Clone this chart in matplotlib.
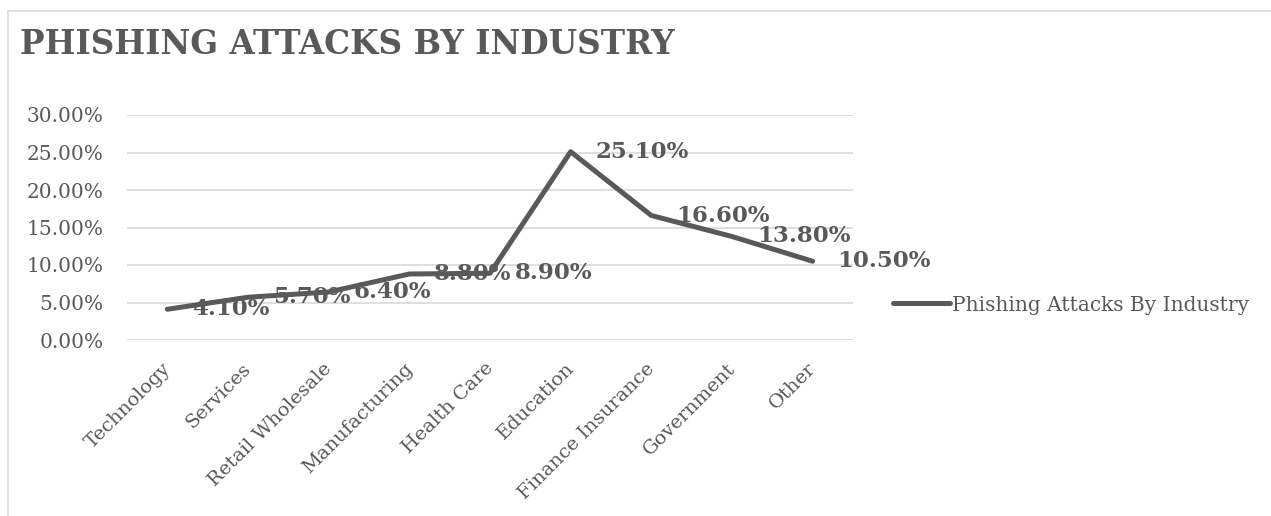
import matplotlib
matplotlib.use("Agg")
import matplotlib.pyplot as plt
import matplotlib.transforms as mtransforms
from matplotlib.lines import Line2D

industries = ["Technology", "Services", "Retail Wholesale", "Manufacturing",
              "Health Care", "Education", "Finance Insurance", "Government", "Other"]
share = [4.1, 5.7, 6.4, 8.8, 8.9, 25.1, 16.6, 13.8, 10.5]
yticks = [0, 5, 10, 15, 20, 25, 30]
series_name = "Phishing Attacks By Industry"

grey = "#595959"
serif = ["DejaVu Serif"]

fig = plt.figure(figsize=(12.71, 5.16), dpi=100)
ax = fig.add_axes([127 / 1271, 1 - 340 / 516, (853 - 127) / 1271, (340 - 115) / 516])

# chart border (cut off at right and bottom)
fig.add_artist(Line2D([8 / 1271, 1.0], [1 - 11 / 516, 1 - 11 / 516], color="#d9d9d9", lw=1.2))
fig.add_artist(Line2D([8 / 1271, 8 / 1271], [0, 1 - 11 / 516], color="#d9d9d9", lw=1.2))

x = list(range(len(industries)))
line, = ax.plot(x, share, color=grey, lw=3.6, solid_capstyle="round",
                solid_joinstyle="round", label=series_name, zorder=3)

for xi, v in zip(x, share):
    ax.annotate(f"{v:.2f}%", (xi, v), xytext=(18, 0), textcoords="offset points",
                ha="left", va="center", fontsize=16.5, fontweight="bold",
                color=grey, family=serif, zorder=4)

ax.set_xlim(-0.5, len(industries) - 0.5)
ax.set_ylim(0, 30)
ax.set_yticks(yticks)
ax.set_yticklabels([f"{t:.2f}%" for t in yticks], family=serif, fontsize=14.5, color=grey)
ax.set_xticks(x)
ax.set_xticklabels(industries, rotation=45, ha="right", rotation_mode="anchor",
                   family=serif, fontsize=14, color=grey)
ax.tick_params(axis="both", length=0)
ax.tick_params(axis="y", pad=17)
ax.tick_params(axis="x", pad=14)
shift = mtransforms.ScaledTranslation(-6 / 100, 0, fig.dpi_scale_trans)
for lab in ax.get_xticklabels():
    lab.set_transform(lab.get_transform() + shift)
ax.grid(axis="y", color="#d9d9d9", lw=1.2)
ax.set_axisbelow(True)
for s in ax.spines.values():
    s.set_visible(False)

fig.text(20 / 1271, 1 - 44 / 516, "PHISHING ATTACKS BY INDUSTRY", family=serif,
         fontsize=23.5, fontweight="bold", color=grey, va="center", ha="left")

leg = fig.legend(handles=[line], loc="center left", bbox_to_anchor=(875 / 1271, 1 - 305 / 516),
                 frameon=False, handlelength=2.8, handletextpad=0.1,
                 prop={"family": serif, "size": 14.5})
for t in leg.get_texts():
    t.set_color(grey)

fig.savefig("out.png", dpi=100)
